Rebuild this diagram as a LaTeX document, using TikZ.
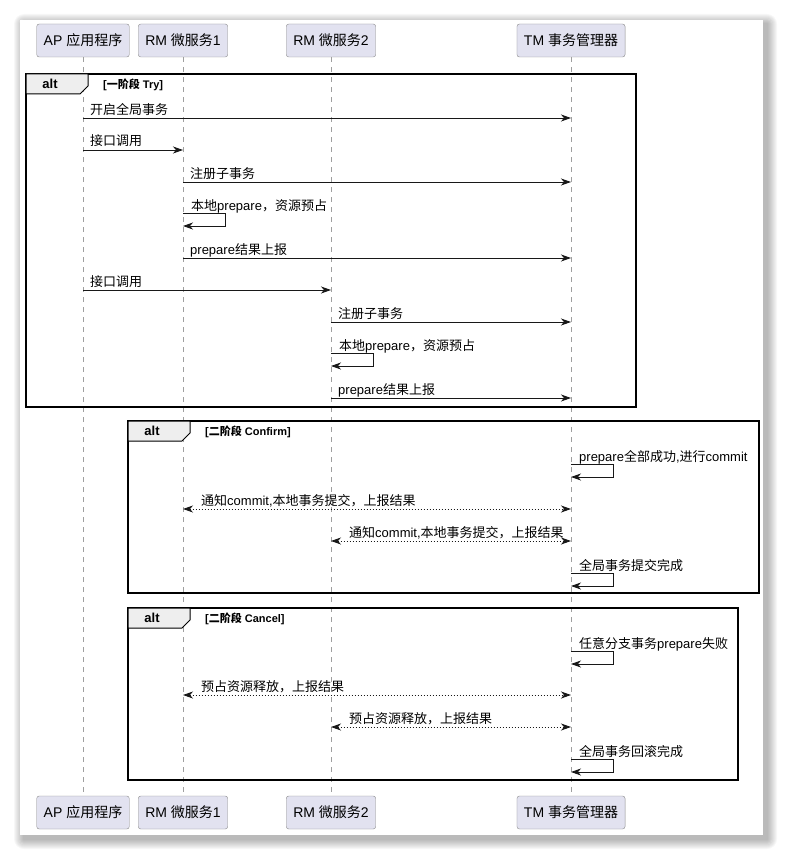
\documentclass[tikz,border=0pt]{standalone}
\usepackage{fontspec}
\setmainfont{Liberation Sans}
\newfontfamily\cjk{Noto Sans CJK SC}
\usepackage{tikz}
\usetikzlibrary{arrows.meta}
\newcommand{\zh}[1]{{\cjk #1}}
\newcommand{\msgfont}{\fontsize{13}{15}\selectfont}
\newcommand{\partfont}{\fontsize{14}{16}\selectfont}
\newcommand{\guardfont}{\fontsize{11}{13}\selectfont\bfseries}
\definecolor{partFill}{HTML}{E2E2F0}
\definecolor{partLine}{HTML}{8A8A8A}
\definecolor{lineColor}{HTML}{181818}
\definecolor{tabFill}{HTML}{EEEEEE}
\tikzset{
participant/.style={draw=partLine, fill=partFill, rounded corners=2.5pt, inner xsep=7pt, inner ysep=0pt, minimum height=33pt, font=\partfont},
lifeline/.style={gray!75, line width=0.8pt, dash pattern=on 5pt off 5pt},
%
message/.style={draw=lineColor, line width=0.9pt, -{Stealth[length=10pt,width=7pt,inset=3pt]}},
reply/.style={draw=lineColor, line width=0.9pt, dash pattern=on 1.6pt off 1.4pt, {Stealth[length=10pt,width=7pt,inset=3pt]}-{Stealth[length=10pt,width=7pt,inset=3pt]}},
msg label/.style={anchor=base west, inner sep=0pt, font=\msgfont},
%
alt frame/.style={draw=black, line width=1.6pt},
alt tab/.style={draw=black, fill=tabFill, line width=1pt},
alt word/.style={inner sep=0pt, font=\fontsize{13}{15}\selectfont\bfseries},
guard/.style={anchor=west, inner sep=0pt, font=\guardfont},
}
\begin{document}
\begin{tikzpicture}[x=1pt,y=-1pt]
        \useasboundingbox (0,0) rectangle (784,856);
        % card with its shadow
        \foreach \s in {1,...,10}
            \fill[black,opacity=.03,rounded corners=\s pt] ({24-\s},{24-\s}) rectangle ({767+\s},{839+\s});
        \fill[white] (20,20) rectangle (763,835);
        % participants
        \foreach \n/\x/\txt in {ap/83/AP \zh{应用程序},rmA/183/RM \zh{微服务}1,rmB/331/RM \zh{微服务}2,tm/571/TM \zh{事务管理器}}  {
            \node[participant] (\n T) at (\x,40.5) {\txt};
            \node[participant] (\n B) at (\x,812.5) {\txt};
            \draw[lifeline] (\n T) -- (\n B);
        }
        % message rows
        \foreach \rw/\y in {m1/118,m2/150,m3/182,s1/213,m4/258,m5/290,m6/322,s2/353,m7/398,s3/464,d1/509,d2/541,s4/573,s5/651,d3/695,d4/727,s6/759}
            \coordinate (\rw) at (0,\y);
        % alt frames
        \foreach \f/\fl/\ft/\fr/\fb/\g in {a1/26/74/636/407/{[\zh{一阶段} Try]},a2/128/421/759/593/{[\zh{二阶段} Confirm]},a3/128/608/738/780/{[\zh{二阶段} Cancel]}}  {
            \draw[alt frame] (\fl,\ft) rectangle (\fr,\fb);
            \draw[alt tab] (\fl,\ft) -- ++(62,0) -- ++(0,12) -- ++(-8,8) -- ++(-54,0) -- cycle;
            \node[alt word] (\f) at ({\fl+24},{\ft+10}) {alt};
            \node[guard] (\f g) at ({\fl+77},{\ft+11}) {\g};
        }
        % phase one
        \draw[message] (apT|-m1) -- (tmT|-m1);
        \node[msg label, xshift=7pt, yshift=4pt] (l1) at (apT|-m1) {\zh{开启全局事务}};
        \draw[message] (apT|-m2) -- (rmAT|-m2);
        \node[msg label, xshift=7pt, yshift=4pt] (l2) at (apT|-m2) {\zh{接口调用}};
        \draw[message] (rmAT|-m3) -- (tmT|-m3);
        \node[msg label, xshift=7pt, yshift=4pt] (l3) at (rmAT|-m3) {\zh{注册子事务}};
        \draw[message] (rmAT|-s1) -- ++(42,0) -- ++(0,13) -- ++(-42,0);
        \node[msg label, xshift=8pt, yshift=3pt] (l4) at (rmAT|-s1) {\zh{本地}prepare\zh{，资源预占}};
        \draw[message] (rmAT|-m4) -- (tmT|-m4);
        \node[msg label, xshift=7pt, yshift=4pt] (l5) at (rmAT|-m4) {prepare\zh{结果上报}};
        \draw[message] (apT|-m5) -- (rmBT|-m5);
        \node[msg label, xshift=7pt, yshift=4pt] (l6) at (apT|-m5) {\zh{接口调用}};
        \draw[message] (rmBT|-m6) -- (tmT|-m6);
        \node[msg label, xshift=7pt, yshift=4pt] (l7) at (rmBT|-m6) {\zh{注册子事务}};
        \draw[message] (rmBT|-s2) -- ++(42,0) -- ++(0,13) -- ++(-42,0);
        \node[msg label, xshift=8pt, yshift=3pt] (l8) at (rmBT|-s2) {\zh{本地}prepare\zh{，资源预占}};
        \draw[message] (rmBT|-m7) -- (tmT|-m7);
        \node[msg label, xshift=7pt, yshift=4pt] (l9) at (rmBT|-m7) {prepare\zh{结果上报}};
        % phase two, confirm
        \draw[message] (tmT|-s3) -- ++(42,0) -- ++(0,13) -- ++(-42,0);
        \node[msg label, xshift=8pt, yshift=3pt] (l10) at (tmT|-s3) {prepare\zh{全部成功},\zh{进行}commit};
        \draw[reply] (rmAT|-d1) -- (tmT|-d1);
        \node[msg label, xshift=18pt, yshift=4pt] (l11) at (rmAT|-d1) {\zh{通知}commit,\zh{本地事务提交，上报结果}};
        \draw[reply] (rmBT|-d2) -- (tmT|-d2);
        \node[msg label, xshift=18pt, yshift=4pt] (l12) at (rmBT|-d2) {\zh{通知}commit,\zh{本地事务提交，上报结果}};
        \draw[message] (tmT|-s4) -- ++(42,0) -- ++(0,13) -- ++(-42,0);
        \node[msg label, xshift=8pt, yshift=3pt] (l13) at (tmT|-s4) {\zh{全局事务提交完成}};
        % phase two, cancel
        \draw[message] (tmT|-s5) -- ++(42,0) -- ++(0,13) -- ++(-42,0);
        \node[msg label, xshift=8pt, yshift=3pt] (l14) at (tmT|-s5) {\zh{任意分支事务}prepare\zh{失败}};
        \draw[reply] (rmAT|-d3) -- (tmT|-d3);
        \node[msg label, xshift=18pt, yshift=4pt] (l15) at (rmAT|-d3) {\zh{预占资源释放，上报结果}};
        \draw[reply] (rmBT|-d4) -- (tmT|-d4);
        \node[msg label, xshift=18pt, yshift=4pt] (l16) at (rmBT|-d4) {\zh{预占资源释放，上报结果}};
        \draw[message] (tmT|-s6) -- ++(42,0) -- ++(0,13) -- ++(-42,0);
        \node[msg label, xshift=8pt, yshift=3pt] (l17) at (tmT|-s6) {\zh{全局事务回滚完成}};
    \end{tikzpicture}
\end{document}
